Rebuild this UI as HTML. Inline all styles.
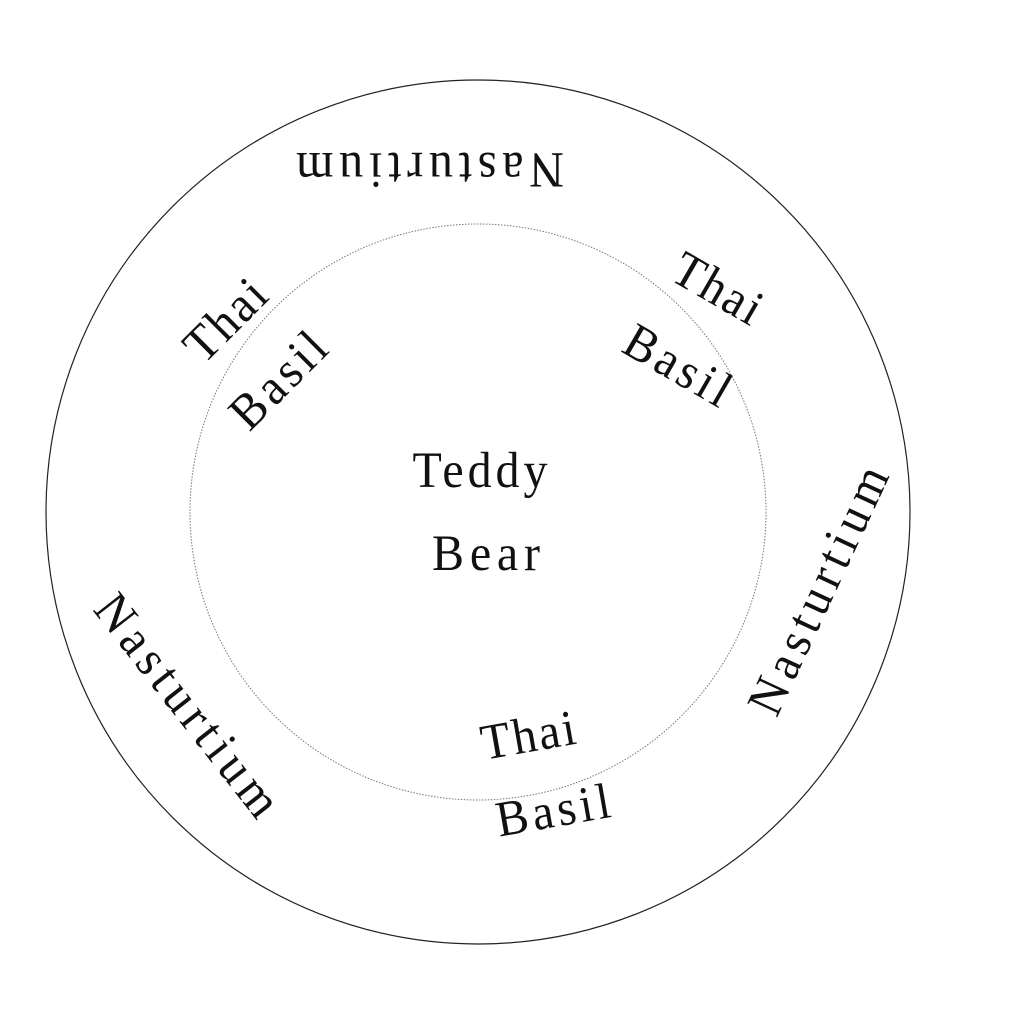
<!DOCTYPE html>
<html><head><meta charset="utf-8"><style>
html,body{margin:0;padding:0;background:#fff;}
text{font-family:"Liberation Serif",serif;fill:#111;text-anchor:middle;dominant-baseline:central;}
</style></head><body>
<svg width="1024" height="1024" viewBox="0 0 1024 1024" xmlns="http://www.w3.org/2000/svg">
<rect width="1024" height="1024" fill="#fff"/>
<circle cx="478" cy="512" r="432" fill="none" stroke="#222" stroke-width="1.2"/>
<circle cx="478" cy="512" r="288" fill="none" stroke="#777" stroke-width="1" stroke-dasharray="1.5,1.5"/>
<g font-size="48">
<text transform="translate(430,170) rotate(180) scale(1,1.05)" textLength="268" lengthAdjust="spacing">Nasturtium</text>
<text transform="translate(480,470) scale(1,1.05)" textLength="135" lengthAdjust="spacing">Teddy</text>
<text transform="translate(486,553) scale(1,1.05)" textLength="108" lengthAdjust="spacing">Bear</text>
<text transform="translate(225,320) rotate(-45) scale(1,1.05)" textLength="95" lengthAdjust="spacing">Thai</text>
<text transform="translate(278,380) rotate(-45) scale(1,1.05)" textLength="115" lengthAdjust="spacing">Basil</text>
<text transform="translate(718,288) rotate(30) scale(1,1.05)" textLength="95" lengthAdjust="spacing">Thai</text>
<text transform="translate(678,365) rotate(30) scale(1,1.05)" textLength="115" lengthAdjust="spacing">Basil</text>
<text transform="translate(818,590) rotate(-65) scale(1,1.05)" textLength="268" lengthAdjust="spacing">Nasturtium</text>
<text transform="translate(188,705) rotate(52) scale(1,1.05)" textLength="268" lengthAdjust="spacing">Nasturtium</text>
<text transform="translate(528,735) rotate(-10) scale(1,1.05)" textLength="95" lengthAdjust="spacing">Thai</text>
<text transform="translate(553,810) rotate(-10) scale(1,1.05)" textLength="115" lengthAdjust="spacing">Basil</text>
</g>
</svg>
</body></html>
